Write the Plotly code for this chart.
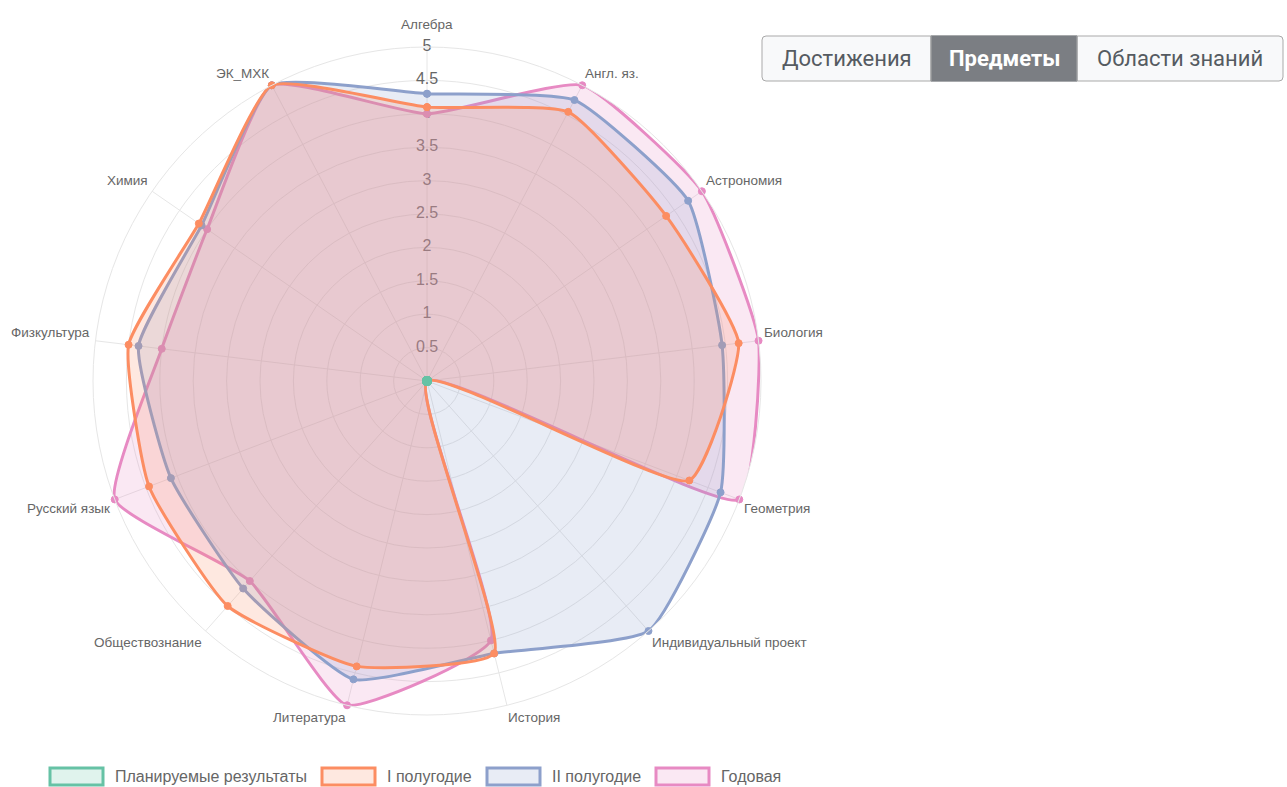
import math
import plotly.graph_objects as go

# ---------------- data ----------------
categories = ["Алгебра", "Англ. яз.", "Астрономия", "Биология", "Геометрия",
              "Индивидуальный проект", "История", "Литература", "Обществознание",
              "Русский язык", "Физкультура", "Химия", "ЭК_МХК"]
planned = [0, 0, 0, 0, 0, 0, 0, 0, 0, 0, 0, 0, 0]
half1 = [4.1, 4.55, 4.35, 4.7, 4.2, 0, 4.2, 4.4, 4.5, 4.45, 4.5, 4.15, 5.0]
half2 = [4.3, 4.75, 4.75, 4.45, 4.7, 5.0, 4.2, 4.6, 4.15, 4.1, 4.35, 4.1, 5.0]
annual = [4.0, 5.0, 5.0, 5.0, 5.0, 0, 4.0, 5.0, 4.0, 5.0, 4.0, 4.0, 5.0]
series_names = ["Планируемые результаты", "I полугодие", "II полугодие", "Годовая"]
radial_ticks = [0.5, 1, 1.5, 2, 2.5, 3, 3.5, 4, 4.5, 5]
radial_tick_labels = ["0.5", "1", "1.5", "2", "2.5", "3", "3.5", "4", "4.5", "5"]
button_labels = ["Достижения", "Предметы", "Области знаний"]
active_button = 1

# ---------------- style ----------------
W, H = 1287, 787
line_colors = ["#66c2a5", "#fc8d62", "#8da0cb", "#e78ac3"]
fill_colors = ["rgba(102,194,165,0.2)", "rgba(252,141,98,0.2)",
               "rgba(141,160,203,0.2)", "rgba(231,138,195,0.2)"]
grid_color = "#e6e6e6"
label_color = "#666666"
FONT = "Liberation Sans, Arial, sans-serif"

CX, CY, R = 427, 381, 334  # polar centre / radius in pixels
RMAX = 5


def px(x):
    return x / W


def py(y):
    return 1 - y / H


fig = go.Figure()

# radial tick labels (drawn beneath the datasets, like chart.js)
fig.add_trace(go.Scatterpolar(
    r=radial_ticks, theta=[categories[0]] * len(radial_ticks),
    mode="text", text=radial_tick_labels, textposition="middle center",
    textfont=dict(size=16, color=label_color, family=FONT),
    hoverinfo="skip", showlegend=False, cliponaxis=False))

series = [planned, half1, half2, annual]
# draw last dataset first so that the first is on top
for idx in [3, 2, 1, 0]:
    vals = series[idx]
    fig.add_trace(go.Scatterpolar(
        r=vals + [vals[0]], theta=categories + [categories[0]],
        mode="lines+markers", name=series_names[idx],
        fill="toself", fillcolor=fill_colors[idx],
        line=dict(color=line_colors[idx], width=3, shape="spline", smoothing=0.45),
        marker=dict(size=7 if idx else 9, color=line_colors[idx],
                    line=dict(color=line_colors[idx], width=1)),
        showlegend=False, cliponaxis=False))

fig.update_layout(
    width=W, height=H,
    margin=dict(l=0, r=0, t=0, b=0),
    paper_bgcolor="white",
    showlegend=False,
    polar=dict(
        domain=dict(x=[px(CX - R), px(CX + R)], y=[py(CY + R), py(CY - R)]),
        bgcolor="white",
        radialaxis=dict(range=[0, RMAX], tickvals=radial_ticks, showticklabels=False,
                        ticks="", showline=False, gridcolor=grid_color, gridwidth=1,
                        angle=90),
        angularaxis=dict(type="category", rotation=90, direction="clockwise",
                         showticklabels=False, ticks="", showline=True,
                         linecolor=grid_color, linewidth=1,
                         gridcolor=grid_color, gridwidth=1),
    ),
)

shapes = []
annotations = []

# ---------------- category (point) labels, chart.js style placement ----------------
n = len(categories)
for i, cat in enumerate(categories):
    ang = i * 360 / n
    dist = R + 5 + (10 if i == 0 else 0)
    x = CX + dist * math.sin(math.radians(ang))
    y = CY - dist * math.cos(math.radians(ang))
    if ang == 0 or ang == 180:
        xa = "center"
    elif ang < 180:
        xa = "left"
    else:
        xa = "right"
    if ang == 90 or ang == 270:
        ya = "middle"
    elif ang < 90 or ang > 270:
        ya = "bottom"
    else:
        ya = "top"
    annotations.append(dict(xref="paper", yref="paper", x=px(x), y=py(y), text=cat,
                            showarrow=False, xanchor=xa, yanchor=ya,
                            borderpad=0, borderwidth=0,
                            font=dict(size=13.5, color=label_color, family=FONT)))

# ---------------- custom legend ----------------
legend_box_x = [50, 322, 487, 656]
for idx, name in enumerate(series_names):
    x0 = legend_box_x[idx]
    shapes.append(dict(type="rect", xref="paper", yref="paper",
                       x0=px(x0), x1=px(x0 + 53), y0=py(785), y1=py(768),
                       fillcolor=fill_colors[idx],
                       line=dict(color=line_colors[idx], width=3)))
    annotations.append(dict(xref="paper", yref="paper", x=px(x0 + 63), y=py(776.5),
                            text=name, showarrow=False, xanchor="left", yanchor="middle",
                            font=dict(size=16, color=label_color, family=FONT)))

# ---------------- button group ----------------
bx0, bx1, by0, by1 = 762, 1283, 36, 81
splits = [762, 931, 1077, 1283]
rad = 4
path = (f"M {px(bx0 + rad)},{py(by0)} L {px(bx1 - rad)},{py(by0)} "
        f"Q {px(bx1)},{py(by0)} {px(bx1)},{py(by0 + rad)} "
        f"L {px(bx1)},{py(by1 - rad)} Q {px(bx1)},{py(by1)} {px(bx1 - rad)},{py(by1)} "
        f"L {px(bx0 + rad)},{py(by1)} Q {px(bx0)},{py(by1)} {px(bx0)},{py(by1 - rad)} "
        f"L {px(bx0)},{py(by0 + rad)} Q {px(bx0)},{py(by0)} {px(bx0 + rad)},{py(by0)} Z")
shapes.append(dict(type="path", xref="paper", yref="paper", path=path,
                   fillcolor="#f8f9fa", line=dict(color="#a9a9a9", width=1)))
shapes.append(dict(type="rect", xref="paper", yref="paper",
                   x0=px(splits[active_button]), x1=px(splits[active_button + 1]),
                   y0=py(by1), y1=py(by0), fillcolor="#7b7e83",
                   line=dict(color="#7b7e83", width=1)))
for k in (1, 2):
    shapes.append(dict(type="line", xref="paper", yref="paper",
                       x0=px(splits[k]), x1=px(splits[k]), y0=py(by1), y1=py(by0),
                       line=dict(color="#a9a9a9", width=1)))
for k, lab in enumerate(button_labels):
    active = k == active_button
    annotations.append(dict(
        xref="paper", yref="paper", x=px((splits[k] + splits[k + 1]) / 2),
        y=py((by0 + by1) / 2), text=f"<b>{lab}</b>" if active else lab,
        showarrow=False, xanchor="center", yanchor="middle",
        font=dict(size=22, color="white" if active else "#555b61",
                  family="Roboto, Liberation Sans, Arial, sans-serif")))

fig.update_layout(shapes=shapes, annotations=annotations)

fig.write_html("out.html", config={"displayModeBar": False},
               post_script="document.body.style.margin='0';")
